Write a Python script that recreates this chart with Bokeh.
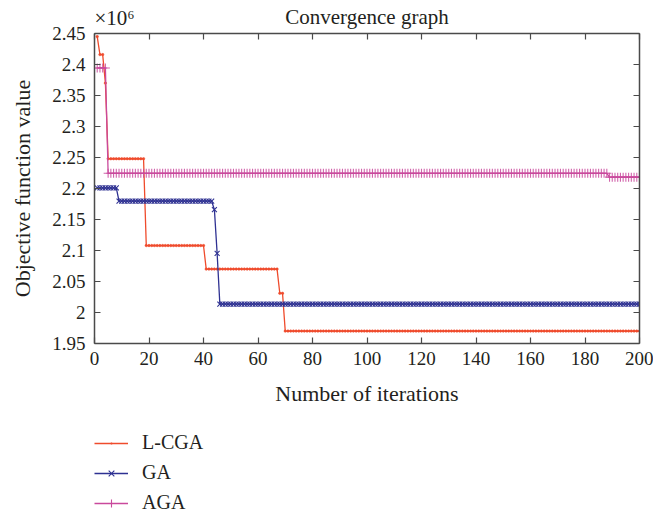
import numpy as np
from bokeh.plotting import figure
from bokeh.layouts import column
from bokeh.models import (ColumnDataSource, FixedTicker, LinearAxis, Legend, LegendItem,
                          Label, CustomJSTickFormatter, Range1d)
from bokeh.embed import file_html
from bokeh.resources import INLINE

# ---------------- data (values in units of 1e6) ----------------
n_iter = 200
iterations = list(range(1, n_iter + 1))

# step levels: iteration where each level starts, and level value
lcga_start = [1, 2, 4, 5, 19, 41, 68, 70]
lcga_level = [2.445, 2.416, 2.370, 2.248, 2.108, 2.070, 2.031, 1.970]

ga_start = [1, 9, 44, 45, 46]
ga_level = [2.201, 2.1795, 2.166, 2.0955, 2.0135]

aga_start = [1, 5, 189]
aga_level = [2.3944, 2.2245, 2.2183]

x_ticks = [0, 20, 40, 60, 80, 100, 120, 140, 160, 180, 200]
y_ticks = [1.95, 2.0, 2.05, 2.1, 2.15, 2.2, 2.25, 2.3, 2.35, 2.4, 2.45]

series_names = ["L-CGA", "GA", "AGA"]
title_text = "Convergence graph"
scale_text = "×10⁶"


def expand(starts, levels):
    starts = list(starts) + [n_iter + 1]
    counts = [starts[i + 1] - starts[i] for i in range(len(levels))]
    return list(np.repeat(levels, counts))


lcga = expand(lcga_start, lcga_level)
ga = expand(ga_start, ga_level)
aga = expand(aga_start, aga_level)

# ---------------- styling ----------------
FONT = "Liberation Serif"
TXT = "#231f20"
AX = "#4a4a4a"
RED = "#EF4B2C"
BLUE = "#2E3192"
MAG = "#C9499C"
W = 653
H_TOP, OVERLAP, H_MAIN, H_LEG = 33, 11, 391, 101


def bare(fig):
    fig.background_fill_color = "white"
    fig.border_fill_color = "white"
    fig.outline_line_color = None
    fig.xgrid.visible = False
    fig.ygrid.visible = False


# ---------- header strip (title and exponent) ----------
p0 = figure(width=W, height=H_TOP, output_backend="svg", toolbar_location=None,
            x_range=Range1d(0, 200), y_range=Range1d(0, 1),
            min_border_left=94, min_border_right=14, min_border_top=0,
            min_border_bottom=0, x_axis_type=None, y_axis_type=None)
bare(p0)
p0.add_layout(Label(x=100, y=0.485, text=title_text, text_align="center",
                    text_baseline="middle", text_font=FONT, text_font_size="21px",
                    text_color=TXT))
p0.add_layout(Label(x=0, y=0.455, text=scale_text, text_align="left",
                    text_baseline="middle", text_font=FONT, text_font_size="21px",
                    text_color=TXT))

# ---------- main plot (overlaps the header a little, transparent border) ----------
p = figure(width=W, height=H_MAIN, output_backend="svg", toolbar_location=None,
           x_range=Range1d(0, 200), y_range=Range1d(1.95, 2.45),
           min_border_left=94, min_border_right=14, min_border_top=OVERLAP,
           min_border_bottom=70, x_axis_type=None, y_axis_type=None,
           margin=(-OVERLAP, 0, 0, 0))
bare(p)
p.border_fill_alpha = 0


def style_axis(ax, show_labels):
    ax.axis_line_color = AX
    ax.axis_line_width = 1.5
    ax.major_tick_line_color = AX
    ax.major_tick_line_width = 1.2
    ax.major_tick_in = 6
    ax.major_tick_out = 0
    ax.minor_tick_line_color = None
    ax.major_label_text_font = FONT
    ax.major_label_text_color = TXT
    ax.major_label_text_font_size = "19px"
    ax.axis_label_text_font = FONT
    ax.axis_label_text_color = TXT
    ax.axis_label_text_font_style = "normal"
    ax.axis_label_text_font_size = "22px"
    if not show_labels:
        ax.major_label_text_font_size = "1px"
        ax.major_label_text_color = None
        ax.major_label_standoff = 0


yfmt = CustomJSTickFormatter(code="return (Math.round(tick*100)/100).toString();")

xb = LinearAxis(ticker=FixedTicker(ticks=x_ticks), axis_label="Number of iterations")
style_axis(xb, True)
xb.major_label_standoff = 8
xb.axis_label_standoff = 13
p.add_layout(xb, "below")

xt = LinearAxis(ticker=FixedTicker(ticks=x_ticks))
style_axis(xt, False)
p.add_layout(xt, "above")

yl = LinearAxis(ticker=FixedTicker(ticks=y_ticks), formatter=yfmt,
                axis_label="Objective function value")
style_axis(yl, True)
yl.major_label_standoff = 9
yl.axis_label_standoff = 14
p.add_layout(yl, "left")

yr = LinearAxis(ticker=FixedTicker(ticks=y_ticks), formatter=yfmt)
style_axis(yr, False)
p.add_layout(yr, "right")

src = ColumnDataSource(dict(x=iterations, lcga=lcga, ga=ga, aga=aga))

p.line("x", "lcga", source=src, line_color=RED, line_width=1.3)
p.scatter("x", "lcga", source=src, marker="circle", size=2.5,
          fill_color=RED, line_color=RED, line_width=0.5)
p.line("x", "ga", source=src, line_color=BLUE, line_width=1.3)
p.scatter("x", "ga", source=src, marker="x", size=7, line_color=BLUE, line_width=1.1)
p.line("x", "aga", source=src, line_color=MAG, line_width=1.3)
p.scatter("x", "aga", source=src, marker="cross", size=9,
          line_color=MAG, line_width=1.1, line_alpha=0.85)

# ---------- legend strip (same series, plotted out of view; only keys show) ----------
p2 = figure(width=W, height=H_LEG, output_backend="svg", toolbar_location=None,
            x_range=Range1d(-20, -10), y_range=Range1d(0, 1),
            min_border_left=0, min_border_right=0, min_border_top=0,
            min_border_bottom=0, x_axis_type=None, y_axis_type=None)
bare(p2)
k1 = [p2.line("x", "lcga", source=src, line_color=RED, line_width=1.3),
      p2.scatter("x", "lcga", source=src, marker="dot", size=10, line_color=RED,
                 fill_color=RED)]
k2 = [p2.line("x", "ga", source=src, line_color=BLUE, line_width=1.3),
      p2.scatter("x", "ga", source=src, marker="x", line_color=BLUE, line_width=1.1)]
k3 = [p2.line("x", "aga", source=src, line_color=MAG, line_width=1.3),
      p2.scatter("x", "aga", source=src, marker="cross", line_color=MAG, line_width=1.1)]

legend = Legend(items=[LegendItem(label=series_names[0], renderers=k1),
                       LegendItem(label=series_names[1], renderers=k2),
                       LegendItem(label=series_names[2], renderers=k3)],
                location=(0, 0), orientation="vertical",
                glyph_width=34, glyph_height=20, label_height=20,
                label_standoff=14, spacing=7, padding=0, margin=0,
                border_line_color=None, background_fill_alpha=0,
                label_text_font=FONT, label_text_font_size="20px",
                label_text_color=TXT)
p2.add_layout(legend)

layout = column(p0, p, p2, spacing=0)
open("out.html", "w").write(file_html(layout, INLINE))
